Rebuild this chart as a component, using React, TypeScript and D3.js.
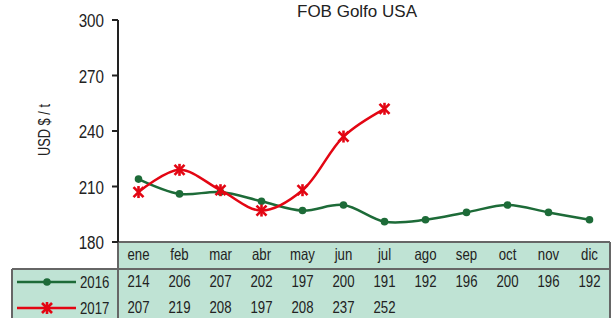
import React from "react";
import * as d3 from "d3";

const months = ["ene", "feb", "mar", "abr", "may", "jun", "jul", "ago", "sep", "oct", "nov", "dic"];
const values2016 = [214, 206, 207, 202, 197, 200, 191, 192, 196, 200, 196, 192];
const values2017 = [207, 219, 208, 197, 208, 237, 252];
const yTicks = [180, 210, 240, 270, 300];
const seriesNames = ["2016", "2017"];

const GREEN = "#1d6b38";
const RED = "#e30613";
const FILL = "#bfe3d4";
const BORDER = "#666666";
const FONT = "'Liberation Sans', Arial, sans-serif";
const SX = 0.8;

function NText(props: { x: number; y: number; size: number; anchor?: string; rotate?: number; children: React.ReactNode }) {
  const { x, y, size, anchor = "start", rotate = 0, children } = props;
  return (
    <text
      transform={`translate(${x},${y}) rotate(${rotate}) scale(${SX},1)`}
      textAnchor={anchor}
      fontSize={size}
      fill="#222"
    >
      {children}
    </text>
  );
}

export default function App() {
  const W = 613, H = 318;
  const left = 118, right = 610;
  const top = 20, bottom = 242;
  const x = d3.scaleBand<string>().domain(months).range([left, right]);
  const y = d3.scaleLinear().domain([180, 300]).range([bottom, top]);
  const cx = (i: number) => (x(months[i]) as number) + x.bandwidth() / 2;
  const line = d3.line<number>().x((_, i) => cx(i)).y((d) => y(d)).curve(d3.curveCatmullRom.alpha(0.5));
  const headerY = 269;
  const tableBottom = 324;
  const star = (px: number, py: number, key: string) => {
    const r = 5;
    return (
      <g key={key} stroke={RED} strokeWidth={2.6}>
        <line x1={px - r} y1={py - r} x2={px + r} y2={py + r} />
        <line x1={px - r} y1={py + r} x2={px + r} y2={py - r} />
        <line x1={px} y1={py - r - 1} x2={px} y2={py + r + 1} />
      </g>
    );
  };
  return (
    <svg width={W} height={H} style={{ position: "absolute", left: 0, top: 0, fontFamily: FONT }}>
      <rect width={W} height={H} fill="#fff" />
      <text x={357} y={17} textAnchor="middle" fontSize={17} fill="#222">FOB Golfo USA</text>
      <NText x={50} y={130} size={16} anchor="middle" rotate={-90}>USD $ / t</NText>
      {/* table */}
      <rect x={left} y={bottom} width={right - left} height={tableBottom - bottom} fill={FILL} />
      <rect x={12} y={headerY} width={left - 12} height={tableBottom - headerY} fill={FILL} />
      <g stroke={BORDER} strokeWidth={2} fill="none">
        <line x1={left} y1={bottom} x2={right} y2={bottom} />
        <line x1={12} y1={headerY} x2={right} y2={headerY} />
        <line x1={12} y1={headerY} x2={12} y2={tableBottom} />
        <line x1={right} y1={bottom} x2={right} y2={tableBottom} />
        <line x1={left} y1={bottom} x2={left} y2={tableBottom} />
      </g>
      {/* axis */}
      <line x1={left} y1={top} x2={left} y2={bottom} stroke="#222" strokeWidth={2} />
      {yTicks.map((t) => (
        <g key={t}>
          <line x1={left - 6} x2={left} y1={y(t)} y2={y(t)} stroke="#222" strokeWidth={2} />
          <NText x={104} y={y(t) + 7} size={19} anchor="end">{t}</NText>
        </g>
      ))}
      {months.map((m, i) => (
        <NText key={m} x={cx(i)} y={260} size={16.5} anchor="middle">{m}</NText>
      ))}
      {values2016.map((v, i) => (
        <NText key={"a" + i} x={cx(i)} y={287} size={16.5} anchor="middle">{v}</NText>
      ))}
      {values2017.map((v, i) => (
        <NText key={"b" + i} x={cx(i)} y={313} size={16.5} anchor="middle">{v}</NText>
      ))}
      {/* legend in table */}
      <line x1={17} x2={76} y1={282} y2={282} stroke={GREEN} strokeWidth={2.5} />
      <circle cx={47} cy={282} r={3.8} fill={GREEN} />
      <NText x={80} y={288} size={16.5}>{seriesNames[0]}</NText>
      <line x1={17} x2={76} y1={308} y2={308} stroke={RED} strokeWidth={2.5} />
      {star(47, 308, "leg")}
      <NText x={80} y={314} size={16.5}>{seriesNames[1]}</NText>
      {/* series */}
      <path d={line(values2016) as string} fill="none" stroke={GREEN} strokeWidth={2.5} />
      {values2016.map((v, i) => (
        <circle key={i} cx={cx(i)} cy={y(v)} r={3.8} fill={GREEN} />
      ))}
      <path d={line(values2017) as string} fill="none" stroke={RED} strokeWidth={2.5} />
      {values2017.map((v, i) => star(cx(i), y(v), "s" + i))}
    </svg>
  );
}
